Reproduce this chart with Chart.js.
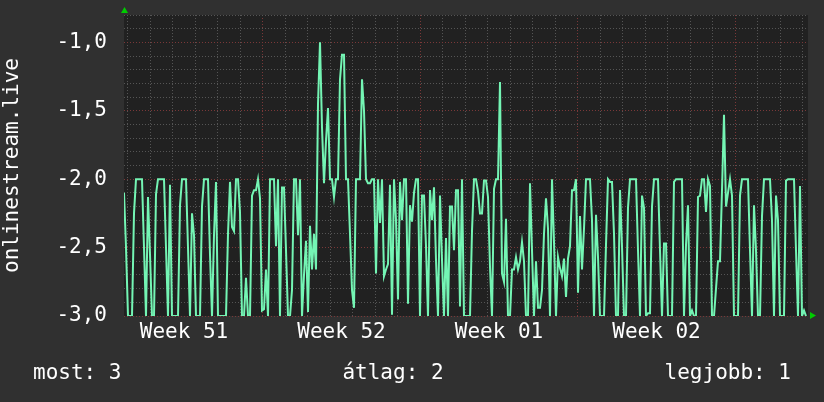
<!DOCTYPE html>
<html>
<head>
<meta charset="utf-8">
<script src="https://cdn.jsdelivr.net/npm/chart.js@4"></script>
<style>
  body { margin: 0; background: #303030; }
  #wrap { width: 824px; height: 402px; position: relative; }
</style>
</head>
<body>
<div id="wrap"><canvas id="rankChart"></canvas></div>
<script>
// rank of onlinestream.live, plotted negated (1 = best), one sample every 128 minutes
const sampleMinutes = 128;
const rank = [
  -2.1, -2.5, -3, -3, -3, -2.25, -2, -2, -2, -2,
  -2.5, -3, -2.13, -2.55, -3, -3, -2.11, -2, -2, -2,
  -2, -2.5, -3, -2.04, -3, -3, -3, -3, -2.19, -2,
  -2, -2, -2.5, -3, -2.25, -2.41, -3, -3, -3, -2.2,
  -2, -2, -2, -2.55, -3, -2.41, -2.02, -3, -3, -3,
  -3, -3, -2.4, -2.02, -2.35, -2.38, -2, -2, -2.24, -3,
  -3, -2.72, -3, -3, -2.12, -2.08, -2.08, -2, -2.14, -2.96,
  -2.95, -2.66, -3, -2, -2, -2, -2.49, -2, -3, -2.06,
  -2.06, -2.52, -3, -3, -2.81, -2, -2, -2.41, -2, -3,
  -2.7, -2.45, -2.97, -2.34, -2.66, -2.4, -2.66, -1.45, -1, -1.62,
  -2.03, -1.72, -1.48, -2, -2, -2.13, -2, -2, -1.27, -1.09,
  -1.09, -2, -2, -2.4, -2.81, -2.94, -2, -2, -2, -1.27,
  -1.5, -2, -2.03, -2.03, -2, -2, -2.69, -2, -2.32, -2,
  -2.71, -2.66, -2.62, -2.04, -2.99, -2, -2.3, -2.88, -2.02, -2.3,
  -2, -2, -2.91, -2.19, -2.31, -2.1, -2, -2, -3, -2.12,
  -2.12, -2.49, -3, -2.08, -2.3, -2.06, -2.59, -3, -2.12, -2.59,
  -3, -2.43, -3, -2.2, -2.2, -2.52, -2.08, -2.08, -2.93, -2,
  -3, -3, -3, -3, -2.38, -2, -2, -2.09, -2.25, -2.25,
  -2.01, -2.01, -2.13, -2.64, -3, -2.07, -2, -2, -1.29, -2.69,
  -2.75, -2.29, -3, -3, -2.66, -2.66, -2.57, -2.66, -2.6, -2.46,
  -2.6, -3, -3, -2.03, -2.52, -3, -2.6, -2.94, -2.94, -2.81,
  -2.4, -2.14, -2.36, -3, -2, -2.46, -3, -2.57, -2.65, -2.71,
  -2.58, -2.86, -2.58, -2.49, -2.08, -2.08, -2, -2.83, -2.27, -2.66,
  -2.36, -2, -2, -2, -2.3, -3, -2.26, -2.57, -3, -3,
  -3, -2.48, -2, -2.02, -2.02, -2.4, -3, -3, -2.08, -2.49,
  -3, -3, -2.21, -2, -2, -2, -2, -2.52, -3, -2.12,
  -2.21, -3, -2.98, -2.98, -2.2, -2, -2, -2, -2.52, -3,
  -2.47, -2.47, -3, -3, -3, -2.02, -2, -2, -2, -2,
  -3, -2.48, -2.19, -3, -2.96, -3, -3, -2.13, -2.12, -2,
  -2, -2.24, -2, -2.05, -3, -3, -2.8, -2.6, -2.6, -2.08,
  -1.53, -2.2, -2.1, -2, -2.12, -3, -3, -3, -2.12, -2,
  -2, -2, -2, -2.52, -3, -2.19, -2.52, -3, -3, -2.27,
  -2, -2, -2, -2, -2.3, -3, -2.12, -2.3, -3, -3,
  -3, -2.01, -2, -2, -2, -2, -2.52, -3, -2.05, -3,
  -2.96, -3
];

// x axis, in hours from the first sample
const weekLabels = ['Week 51', 'Week 52', 'Week 01', 'Week 02'];
const weekLabelHours = [64, 232, 400, 568];   // middle of each week
const weekStartHours = [148, 316, 484, 652];  // major grid lines
const firstDayHour = 4;
const xMaxHours = 729.6;

// y axis
const yMin = -3, yMax = -0.8;

// bottom line
const summaryLabels = ['most', 'átlag', 'legjobb'];
const summaryValues = [3, 2, 1];

const FONT = '"DejaVu Sans Mono", monospace';

const points = rank.map((v, i) => ({ x: i * sampleMinutes / 60, y: v }));

const dayHours = [];
for (let h = firstDayHour; h < xMaxHours; h += 24) dayHours.push(h);

const isMajorX = v => weekStartHours.includes(v);
const isLabelX = v => weekLabelHours.includes(v);

const rrdStyle = {
  id: 'rrdStyle',
  beforeDraw(chart) {
    const { ctx, chartArea: a } = chart;
    ctx.save();
    ctx.fillStyle = '#212121';
    ctx.fillRect(a.left, a.top, a.right - a.left, a.bottom - a.top);
    ctx.restore();
  },
  afterDraw(chart) {
    const { ctx, chartArea: a } = chart;
    ctx.save();
    // axis arrows
    ctx.fillStyle = '#00cc00';
    ctx.beginPath();
    ctx.moveTo(a.left - 3, a.top - 2);
    ctx.lineTo(a.left + 4, a.top - 2);
    ctx.lineTo(a.left + 0.5, a.top - 8);
    ctx.closePath();
    ctx.fill();
    ctx.beginPath();
    ctx.moveTo(a.right + 2, a.bottom - 4);
    ctx.lineTo(a.right + 2, a.bottom + 3);
    ctx.lineTo(a.right + 8, a.bottom - 0.5);
    ctx.closePath();
    ctx.fill();
    // summary line
    ctx.font = '21px ' + FONT;
    ctx.fillStyle = '#ffffff';
    ctx.textBaseline = 'middle';
    const txt = summaryLabels.map((l, i) => l + ': ' + summaryValues[i]);
    const y = 374;
    ctx.textAlign = 'left';
    ctx.fillText(txt[0], 33, y);
    ctx.textAlign = 'center';
    ctx.fillText(txt[1], 393, y);
    ctx.textAlign = 'right';
    ctx.fillText(txt[2], 791, y);
    ctx.restore();
  }
};

new Chart(document.getElementById('rankChart'), {
  type: 'line',
  data: {
    datasets: [{
      data: points,
      borderColor: '#74f5b4',
      borderWidth: 2,
      pointRadius: 0,
      tension: 0,
      fill: false
    }]
  },
  options: {
    responsive: true,
    maintainAspectRatio: false,
    animation: false,
    layout: { padding: { left: 0, right: 16, top: 15, bottom: 0 } },
    plugins: { legend: { display: false }, tooltip: { enabled: false } },
    scales: {
      x: {
        type: 'linear',
        min: 0,
        max: xMaxHours,
        afterBuildTicks: s => {
          s.ticks = dayHours.concat(weekLabelHours).sort((a, b) => a - b).map(v => ({ value: v }));
        },
        afterFit: s => { s.height = 86; s.paddingLeft = 0; s.paddingRight = 0; },
        grid: {
          drawTicks: false,
          color: c => isLabelX(c.tick.value) ? 'rgba(0,0,0,0)' : (isMajorX(c.tick.value) ? '#7a3838' : '#555555'),
          lineWidth: 1
        },
        border: { display: false, dash: [1, 2] },
        ticks: {
          autoSkip: false,
          maxRotation: 0,
          padding: 4,
          color: '#ffffff',
          font: { family: FONT, size: 21 },
          callback: v => {
            const k = weekLabelHours.indexOf(v);
            return k >= 0 ? weekLabels[k] : '';
          }
        }
      },
      y: {
        min: yMin,
        max: yMax,
        afterBuildTicks: s => {
          const t = [];
          for (let k = 0; k <= Math.round((yMax - yMin) * 10); k++) t.push({ value: Math.round((yMin + k / 10) * 10) / 10 });
          s.ticks = t;
        },
        afterFit: s => { s.width = 124; s.paddingTop = 0; s.paddingBottom = 0; },
        grid: {
          drawTicks: false,
          color: c => Math.round(c.tick.value * 10) % 5 === 0 ? '#7a3838' : '#555555',
          lineWidth: 1
        },
        border: { display: false, dash: [1, 2] },
        title: {
          display: true,
          text: 'onlinestream.live',
          color: '#ffffff',
          font: { family: FONT, size: 21 },
          padding: 0
        },
        ticks: {
          autoSkip: false,
          padding: 17,
          color: '#ffffff',
          font: { family: FONT, size: 21 },
          callback: v => Math.round(v * 10) % 5 === 0 ? v.toFixed(1).replace('.', ',') : ''
        }
      }
    }
  },
  plugins: [rrdStyle]
});
</script>
</body>
</html>
